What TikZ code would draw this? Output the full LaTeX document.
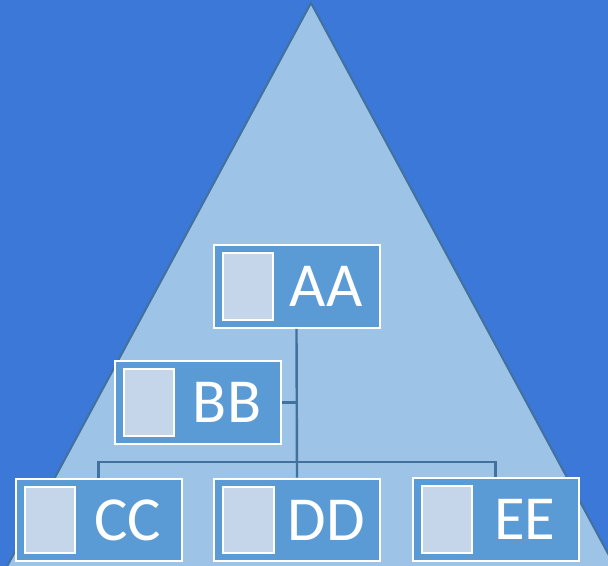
\documentclass[tikz,border=0pt]{standalone}
\usepackage{fontspec}
\setmainfont{Carlito}
\definecolor{sky}{RGB}{59,120,216}
\definecolor{tri}{RGB}{157,195,230}
\definecolor{edge}{RGB}{65,113,156}
\definecolor{unit}{RGB}{91,155,213}
\definecolor{photo}{RGB}{197,213,234}
\tikzset{
    box/.style={draw=white, line width=1.5pt, fill=unit, minimum width=124.5pt, minimum height=62pt, inner sep=0pt},
    pic/.style={draw=white, line width=1.5pt, fill=photo, minimum width=38pt, minimum height=50pt, inner sep=0pt},
    lbl/.style={text=white, font=\fontsize{47}{47}\selectfont, inner sep=0pt},
    link/.style={draw=edge, line width=1.8pt}
}
\begin{document}
\begin{tikzpicture}[x=0.75pt, y=-0.75pt]
        \useasboundingbox (0,0) rectangle (608,566);
        \clip (0,0) rectangle (608,566);
        \fill[sky] (0,0) rectangle (608,566);
        \draw[fill=tri, draw=edge, line width=1.5pt] (311,3) -- (-3,585) -- (625,585) -- cycle;
        
        \foreach \n/\t/\x/\y in {aa/AA/296.5/286.5, bb/BB/197.5/402.5, cc/CC/98.5/520, dd/DD/297/520, ee/EE/495.5/519.5} {
            \node[box] (\n) at (\x,\y) {};
            \node[pic] (\n-pic) at ([xshift=-48.5*0.75pt]\n.center) {};
            \node[lbl] (\n-txt) at ([xshift=29.5*0.75pt]\n.center) {\t};
        }
        
        \coordinate (bus) at (297,462);
        \draw[link] (aa.south) -- (dd.north);
        \draw[link] (bb.east) -- (bb.east -| aa.south);
        \draw[link] (cc.north) -- (cc.north |- bus) -- (ee.north |- bus) -- (ee.north);
        
    \end{tikzpicture}
\end{document}
